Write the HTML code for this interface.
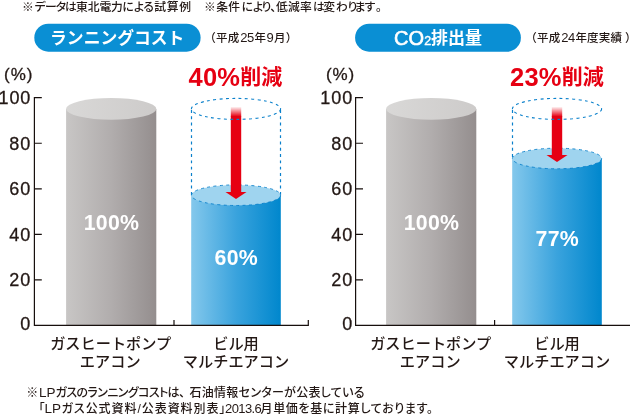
<!DOCTYPE html>
<html lang="ja">
<head>
<meta charset="utf-8">
<title>ランニングコスト・CO2排出量</title>
<style>
html,body{margin:0;padding:0;background:#fff;}
body{width:630px;height:416px;overflow:hidden;position:relative;font-family:"Liberation Sans","Noto Sans CJK JP",sans-serif;color:#231815;}
svg{position:absolute;left:0;top:0;display:block;}
text{font-family:"Liberation Sans","Noto Sans CJK JP",sans-serif;}
.ax{letter-spacing:0.900px;font-size:18px;fill:#231815;stroke:#231815;stroke-width:0.300px;}
.lbl{font-size:15.200px;fill:#231815;font-weight:500;}
.note{font-size:11.800px;fill:#231815;font-weight:500;font-feature-settings:"palt";}
.note2{font-size:12px;fill:#231815;font-weight:500;font-feature-settings:"palt";}
.lat{font-size:13.500px;}
.pill{font-size:16.800px;fill:#fff;font-weight:700;}
.dg{font-size:13px;letter-spacing:-0.500px;}
.sub{letter-spacing:0.200px;font-size:11.500px;fill:#231815;font-weight:500;}
.red{font-size:21px;fill:#e60012;font-weight:bold;}
.rn{font-size:25.500px;letter-spacing:0.200px;}
.co{font-size:20px;font-weight:normal;stroke:#fff;stroke-width:0.600px;}
.co2{font-size:12.500px;font-weight:normal;stroke:#fff;stroke-width:0.400px;}
.val{letter-spacing:0.300px;font-size:21.300px;fill:#fff;font-weight:bold;}
</style>
</head>
<body>
<svg width="630" height="416" viewBox="0 0 630 416">
<defs>
<linearGradient id="gg" x1="0" x2="1" y1="0" y2="0">
<stop offset="0" stop-color="#c8c6c5"/><stop offset="0.5" stop-color="#b1adad"/><stop offset="1" stop-color="#948e8e"/>
</linearGradient>
<linearGradient id="ge" x1="0" x2="1" y1="0" y2="0">
<stop offset="0" stop-color="#d9d8d7"/><stop offset="1" stop-color="#cdcbca"/>
</linearGradient>
<linearGradient id="bg" x1="0" x2="1" y1="0" y2="0">
<stop offset="0" stop-color="#84c8ec"/><stop offset="0.5" stop-color="#3aa3dd"/><stop offset="1" stop-color="#0087cd"/>
</linearGradient>
<linearGradient id="rg" x1="0" x2="0" y1="0" y2="1">
<stop offset="0" stop-color="#e60012" stop-opacity="0"/><stop offset="1" stop-color="#e60012" stop-opacity="1"/>
</linearGradient>
</defs>
<text class="note" x="21.200" y="11" dx="0.7 0.9 -0.6 -1 -1 -0.9 0 0 -0.4 -0.3 0 -0.5 0.4 0.7 0.6">※データは東北電力による試算例</text>
<text class="note" x="203.800" y="11" dx="0.2 0.4 0.2 1.5 0 -1.4 -0.5 -0.4 0.2 0.3 1.1 -1.6 0.8 -0.3 -2.5 -0.9 1.8">※条件により、低減率は変わります。</text>
<g>
<rect x="34.3" y="23.700" width="166.3" height="28" rx="14" fill="#0a8fd4"/>
<text class="pill" x="117.200" y="44.200" text-anchor="middle">ランニングコスト</text>
<text class="sub" x="204.3" y="42.200">（平成<tspan class="dg" dx="0.8">25</tspan><tspan dx="0.7">年</tspan><tspan class="dg" dx="0.5">9</tspan><tspan dx="0.7">月</tspan><tspan dx="0.1">）</tspan></text>
<text class="ax" style="font-size:17px" x="4.1" y="80.300">(%)</text>
<text class="ax" x="31.2" y="104.2" text-anchor="end">100</text>
<text class="ax" x="31.2" y="149.7" text-anchor="end">80</text>
<text class="ax" x="31.2" y="195.3" text-anchor="end">60</text>
<text class="ax" x="31.2" y="240.8" text-anchor="end">40</text>
<text class="ax" x="31.2" y="286.4" text-anchor="end">20</text>
<text class="ax" x="31.2" y="330.2" text-anchor="end">0</text>
<rect x="66.1" y="109" width="90.200" height="216.500" fill="url(#gg)"/>
<ellipse cx="111.2" cy="108.900" rx="45.100" ry="10.900" fill="url(#ge)"/>
<rect x="191.2" y="195.2" width="89.600" height="130.3" fill="url(#bg)"/>
<ellipse cx="236" cy="195.2" rx="44.600" ry="10.300" fill="#9fd4ef" stroke="#0a80cb" stroke-width="0.900" stroke-dasharray="2.900 3.400"/>
<rect x="230.8" y="106.500" width="10.400" height="10" fill="url(#rg)"/>
<rect x="230.8" y="116" width="10.400" height="76.5" fill="#e60012"/>
<polygon points="225.5,192.0 246.5,192.0 236.0,199.0" fill="#e60012"/>
<ellipse cx="236" cy="108.900" rx="44.600" ry="10.500" fill="none" stroke="#0a80cb" stroke-width="1.100" stroke-dasharray="2.900 3.400"/>
<path d="M191.5,110V195.2M280.5,110V195.2" fill="none" stroke="#0a80cb" stroke-width="1.200" stroke-dasharray="2.900 3.400"/>
<text class="red" x="188.5" y="85.500"><tspan class="rn">40%</tspan><tspan dy="-1.500">削減</tspan></text>
<text class="val" x="111.5" y="230.200" text-anchor="middle">100%</text>
<text class="val" x="236.3" y="265" text-anchor="middle">60%</text>
<path d="M41.8,97.700H34.4V325.400H308.3v-5.500M34.4,143.240h7.400M34.4,188.780h7.400M34.4,234.320h7.400M34.4,279.860h7.400M174,325.400v-5.500" fill="none" stroke="#170f0d" stroke-width="1.200"/>
<text class="lbl" x="110.7" y="348.600" text-anchor="middle">ガスヒートポンプ</text>
<text class="lbl" x="110.2" y="367.100" text-anchor="middle">エアコン</text>
<text class="lbl" x="236" y="348.600" text-anchor="middle">ビル用</text>
<text class="lbl" x="236" y="367.100" text-anchor="middle">マルチエアコン</text>
</g>
<g>
<rect x="355.1" y="23.700" width="165.8" height="28" rx="14" fill="#0a8fd4"/>
<text class="pill" x="394" y="44.800"><tspan class="co">CO</tspan><tspan class="co2" dx="0.2">2</tspan><tspan dx="-0.1" dy="-0.900" style="font-size:17px">排出量</tspan></text>
<text class="sub" x="525.3" y="42.200">（平成<tspan class="dg" dx="0.8">24</tspan><tspan dx="0.7">年度実績</tspan><tspan dx="2.8">）</tspan></text>
<text class="ax" style="font-size:17px" x="326.0" y="80.300">(%)</text>
<text class="ax" x="353.1" y="104.2" text-anchor="end">100</text>
<text class="ax" x="353.1" y="149.7" text-anchor="end">80</text>
<text class="ax" x="353.1" y="195.3" text-anchor="end">60</text>
<text class="ax" x="353.1" y="240.8" text-anchor="end">40</text>
<text class="ax" x="353.1" y="286.4" text-anchor="end">20</text>
<text class="ax" x="353.1" y="330.2" text-anchor="end">0</text>
<rect x="386.1" y="109" width="90.200" height="216.500" fill="url(#gg)"/>
<ellipse cx="431.2" cy="108.900" rx="45.100" ry="10.900" fill="url(#ge)"/>
<rect x="512.2" y="158.5" width="89.600" height="167.0" fill="url(#bg)"/>
<ellipse cx="557.0" cy="158.5" rx="44.600" ry="10.300" fill="#9fd4ef" stroke="#0a80cb" stroke-width="0.900" stroke-dasharray="2.900 3.400"/>
<rect x="551.8" y="106.500" width="10.400" height="10" fill="url(#rg)"/>
<rect x="551.8" y="116" width="10.400" height="39.5" fill="#e60012"/>
<polygon points="546.5,155.0 567.5,155.0 557.0,162.0" fill="#e60012"/>
<ellipse cx="557.0" cy="108.900" rx="44.600" ry="10.500" fill="none" stroke="#0a80cb" stroke-width="1.100" stroke-dasharray="2.900 3.400"/>
<path d="M512.5,110V158.5" fill="none" stroke="#0a80cb" stroke-width="1.200" stroke-dasharray="2.900 3.400"/>
<text class="red" x="510" y="85.500"><tspan class="rn">23%</tspan><tspan dy="-1.500">削減</tspan></text>
<text class="val" x="431.5" y="230.200" text-anchor="middle">100%</text>
<text class="val" x="557.3" y="246.2" text-anchor="middle">77%</text>
<path d="M363.0,97.700H355.6V325.400H631M355.6,143.240h7.400M355.6,188.780h7.400M355.6,234.320h7.400M355.6,279.860h7.400M494.6,325.400v-5.500" fill="none" stroke="#170f0d" stroke-width="1.200"/>
<text class="lbl" x="430.7" y="348.600" text-anchor="middle">ガスヒートポンプ</text>
<text class="lbl" x="430.2" y="367.100" text-anchor="middle">エアコン</text>
<text class="lbl" x="557.0" y="348.600" text-anchor="middle">ビル用</text>
<text class="lbl" x="557.0" y="367.100" text-anchor="middle">マルチエアコン</text>
</g>

<text class="note2" x="26.300" y="397">※<tspan class="lat" dx="0.700">LP</tspan></text>
<text class="note2" x="55.500" y="397" textLength="129.500" lengthAdjust="spacing">ガスのランニングコストは、</text>
<text class="note2" x="189.500" y="397" textLength="175" lengthAdjust="spacing">石油情報センターが公表している</text>
<text class="note2" x="38.500" y="413">「<tspan class="lat">LP</tspan></text>
<text class="note2" x="61.500" y="413" textLength="164" lengthAdjust="spacing">ガス公式資料/公表資料別表」</text>
<text class="note2" x="225" y="413" style="font-size:13px;letter-spacing:-0.600px">2013.6</text>
<text class="note2" x="260.500" y="413" textLength="172.500" lengthAdjust="spacing">月単価を基に計算しております。</text>
</svg>
</body>
</html>
